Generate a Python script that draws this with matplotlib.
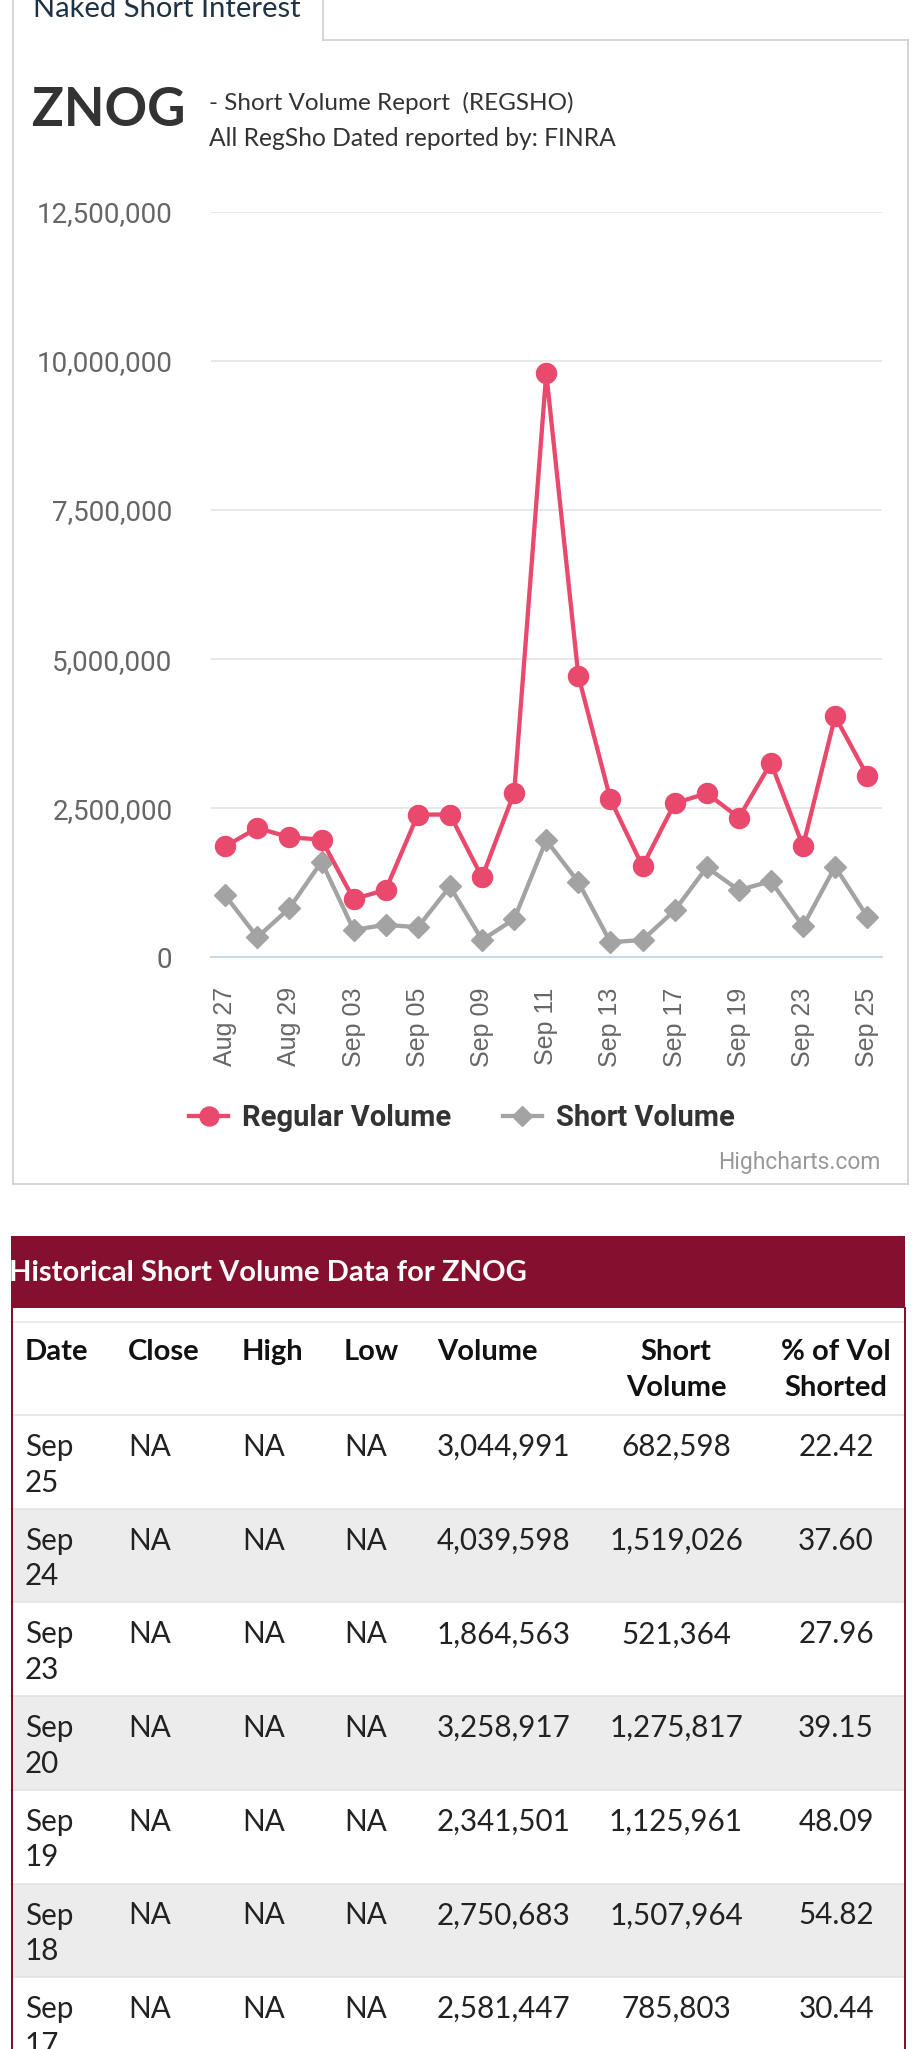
import matplotlib
matplotlib.use("Agg")
import matplotlib.pyplot as plt
from matplotlib.patches import Rectangle
from matplotlib.lines import Line2D

# ---------------- data ----------------
dates = ["Aug 27", "Aug 28", "Aug 29", "Aug 30", "Sep 03", "Sep 04", "Sep 05",
         "Sep 06", "Sep 09", "Sep 10", "Sep 11", "Sep 12", "Sep 13", "Sep 16",
         "Sep 17", "Sep 18", "Sep 19", "Sep 20", "Sep 23", "Sep 24", "Sep 25"]
regular_volume = [1861000, 2169000, 2012000, 1973000, 975000, 1132000, 2393000,
                  2393000, 1340000, 2758000, 9796000, 4720000, 2646000, 1525000,
                  2581447, 2750683, 2341501, 3258917, 1864563, 4039598, 3044991]
short_volume = [1037000, 336000, 824000, 1603000, 460000, 544000, 504000,
                1188000, 291000, 639000, 1962000, 1261000, 252000, 291000,
                785803, 1507964, 1125961, 1275817, 521364, 1519026, 682598]
y_ticks = [0, 2500000, 5000000, 7500000, 10000000, 12500000]

tbl_columns = ["Date", "Close", "High", "Low", "Volume", "Short\nVolume", "% of Vol\nShorted"]
tbl_dates = ["Sep\n25", "Sep\n24", "Sep\n23", "Sep\n20", "Sep\n19", "Sep\n18", "Sep\n17"]
tbl_close = ["NA"] * 7
tbl_high = ["NA"] * 7
tbl_low = ["NA"] * 7
tbl_volume = [3044991, 4039598, 1864563, 3258917, 2341501, 2750683, 2581447]
tbl_short = [682598, 1519026, 521364, 1275817, 1125961, 1507964, 785803]
tbl_pct = [22.42, 37.60, 27.96, 39.15, 48.09, 54.82, 30.44]

# ---------------- styles ----------------
W, H = 917, 2049
RED = "#e8496c"
GRAY = "#a3a3a3"
MAROON = "#85102d"
BORDER = "#cccccc"

fig = plt.figure(figsize=(W / 100, H / 100), dpi=100)
fig.patch.set_facecolor("white")

# background axes in pixel coordinates
bg = fig.add_axes([0, 0, 1, 1])
bg.set_xlim(0, W)
bg.set_ylim(H, 0)
bg.axis("off")

def px(v):
    return v * 0.72  # px -> points at 100 dpi

# ---- tab + chart box ----
blw = px(1.6)
bg.plot([13, 13], [0, 1184], color=BORDER, lw=blw)
bg.plot([13, 908], [1184, 1184], color=BORDER, lw=blw)
bg.plot([908, 908], [40, 1184], color=BORDER, lw=blw)
bg.plot([323, 908], [40, 40], color=BORDER, lw=blw)
bg.plot([323, 323], [0, 40], color=BORDER, lw=blw)

bg.text(33, 17, "Naked Short Interest", family="Lato", fontsize=21,
        color="#1f3344", ha="left", va="baseline")
bg.text(32, 111, "ZNOG", family="Lato", fontweight="bold", fontsize=38,
        color="#333333", ha="left", va="center")
bg.text(209, 103, "- Short Volume Report  (REGSHO)", family="Lato", fontsize=17.5,
        color="#333333", ha="left", va="center")
bg.text(209, 138, "All RegSho Dated reported by: FINRA", family="Lato", fontsize=17.7,
        color="#333333", ha="left", va="center")
bg.text(881, 1163, "Highcharts.com", family="Roboto", fontsize=16.5,
        color="#999999", ha="right", va="center")

# ---------------- chart ----------------
ax_left, ax_right, ax_top, ax_bottom = 210.5, 882, 211.7, 957.3
ax = fig.add_axes([ax_left / W, 1 - ax_bottom / H, (ax_right - ax_left) / W,
                   (ax_bottom - ax_top) / H])
ax.set_facecolor("none")
x = list(range(len(dates)))
ax.plot(x, regular_volume, color=RED, lw=px(4.3), marker="o", ms=px(20),
        zorder=3, solid_joinstyle="round")
ax.plot(x, short_volume, color=GRAY, lw=px(4.3), marker="D", ms=px(15),
        zorder=2, solid_joinstyle="round")
ax.set_xlim(-0.46, len(dates) - 1 + 0.46)
ax.set_ylim(0, 12500000)
ax.set_yticks(y_ticks, labels=[f"{v:,}" for v in y_ticks])
ax.set_xticks(x[::2], labels=dates[::2])
ax.yaxis.grid(True, color="#e6e6e6", lw=px(1.8))
ax.set_axisbelow(True)
for s in ["top", "left", "right"]:
    ax.spines[s].set_visible(False)
ax.spines["bottom"].set_color("#ccd6eb")
ax.spines["bottom"].set_linewidth(px(2))
ax.tick_params(axis="y", length=0, pad=px(38), labelsize=20, labelcolor="#666666")
ax.tick_params(axis="x", length=0, pad=px(30), labelsize=18, labelcolor="#666666",
               rotation=90)
for lbl in ax.get_yticklabels():
    lbl.set_family("Roboto")
for lbl in ax.get_xticklabels():
    lbl.set_family("Liberation Sans")
    lbl.set_va("top")
    lbl.set_ha("center")

# legend
h1 = Line2D([], [], color=RED, lw=px(4.3), marker="o", ms=px(19))
h2 = Line2D([], [], color=GRAY, lw=px(4.3), marker="D", ms=px(14))
leg = ax.legend([h1, h2], ["Regular Volume", "Short Volume"], loc="center",
                bbox_to_anchor=(462 / W, 1 - 1118 / H), bbox_transform=fig.transFigure,
                ncol=2, frameon=False, handlelength=1.35, handletextpad=0.48,
                columnspacing=1.75, prop={"family": "Roboto", "weight": "bold", "size": 21})
for t in leg.get_texts():
    t.set_color("#333333")

# ---------------- table ----------------
tb_l, tb_r = 10.5, 905
bg.add_patch(Rectangle((tb_l, 1236), tb_r - tb_l, 72, facecolor=MAROON, edgecolor="none"))
bg.text(9, 1273, "Historical Short Volume Data for ZNOG", family="Lato",
        fontweight="bold", fontsize=21, color="white", ha="left", va="center")

row_top0 = 1415
row_h = 93.7
n_rows = len(tbl_dates)
for i in range(n_rows):
    top = row_top0 + i * row_h
    if i % 2 == 1:
        bg.add_patch(Rectangle((tb_l, top), tb_r - tb_l, row_h, facecolor="#ececec",
                               edgecolor="none"))
    bg.plot([tb_l, tb_r], [top, top], color="#dde2e6", lw=px(1.5))
bg.plot([tb_l, tb_r], [1322, 1322], color="#e2e7ea", lw=px(1.5))
bg.plot([11.5, 11.5], [1308, H], color=MAROON, lw=px(2))
bg.plot([904.5, 904.5], [1308, H], color=MAROON, lw=px(2))

col_x = [25, 128, 242, 344, 437, 676, 836]
col_ha = ["left", "left", "left", "left", "left", "center", "center"]
line1_off, line2_off = 32, 67.5

# header
for cx, ha, name in zip(col_x, col_ha, tbl_columns):
    parts = name.split("\n")
    for j, p in enumerate(parts):
        bg.text(cx, 1352 + j * 35.5, p, family="Lato", fontweight="bold", fontsize=21,
                color="#111111", ha=ha, va="center")

# body
for i in range(n_rows):
    top = row_top0 + i * row_h
    cells = [tbl_dates[i], tbl_close[i], tbl_high[i], tbl_low[i],
             f"{tbl_volume[i]:,}", f"{tbl_short[i]:,}", f"{tbl_pct[i]:.2f}"]
    for cx, ha, cell in zip(col_x, col_ha, cells):
        parts = cell.split("\n")
        for j, p in enumerate(parts):
            bg.text(cx, top + line1_off + j * (line2_off - line1_off), p, family="Lato",
                    fontsize=21.3, color="#222222", ha=ha, va="center")

fig.savefig("out.png", dpi=100)
